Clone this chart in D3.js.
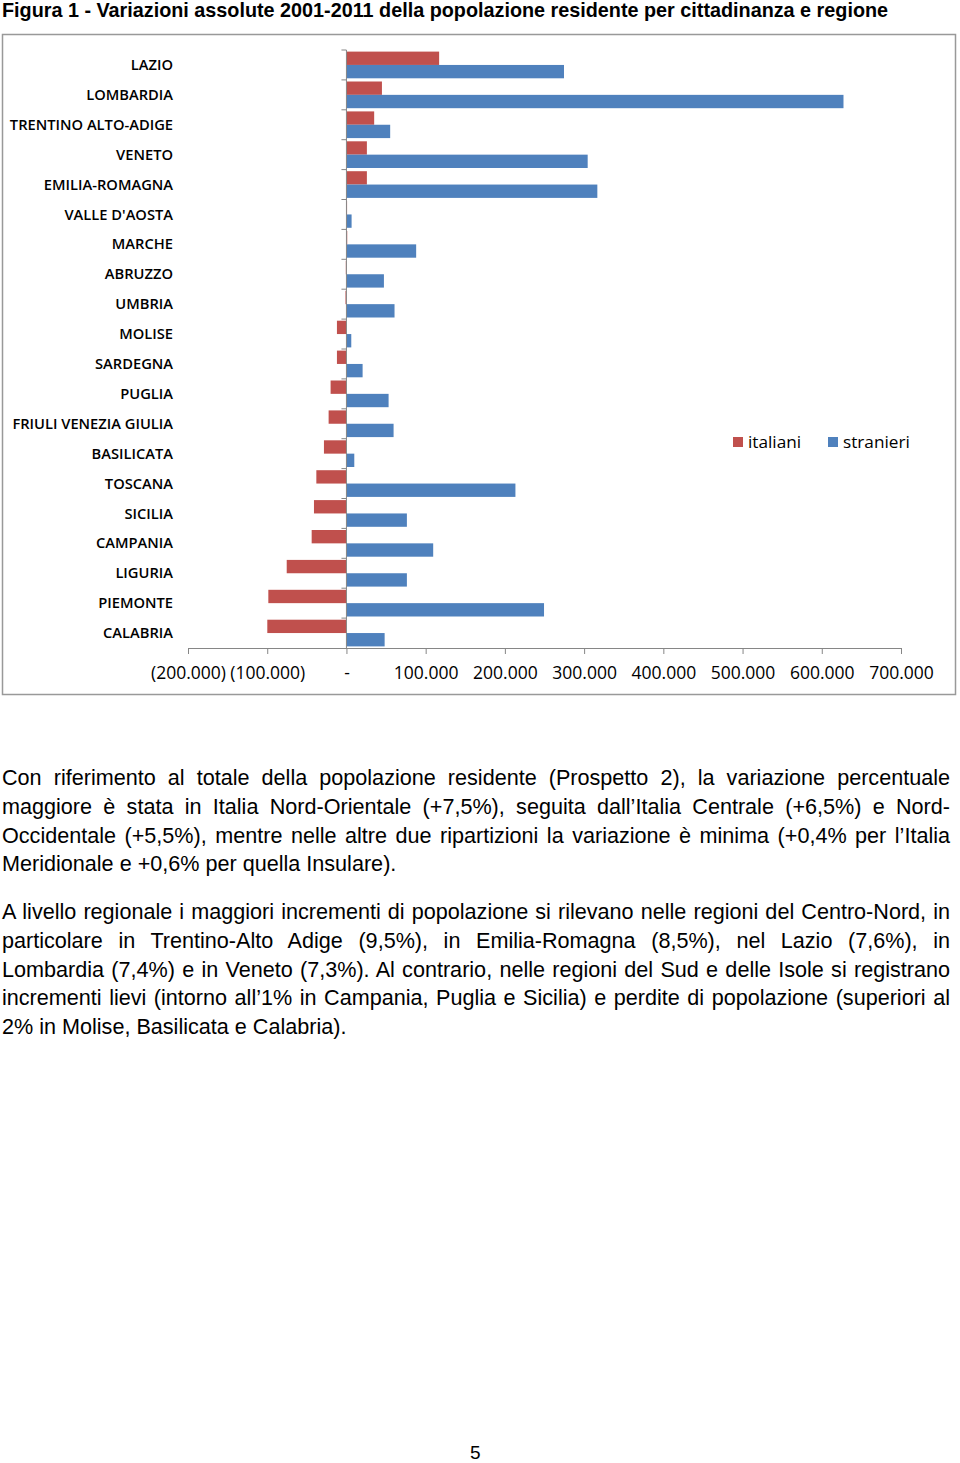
<!DOCTYPE html>
<html>
<head>
<meta charset="utf-8">
<script src="https://cdn.jsdelivr.net/npm/d3@7"></script>
<style>
  body { margin: 0; background: #fff; width: 960px; height: 1463px; position: relative; overflow: hidden; }
  svg { position: absolute; left: 0; top: 0; }
  .para { position: absolute; left: 2px; width: 948px; font-family: "Liberation Sans", Arial, sans-serif; font-size: 21.6px; line-height: 28.8px; color: #000; }
  .para div { text-align: justify; text-align-last: justify; white-space: nowrap; }
  .para div.last { text-align-last: left; }
  #pagenum { position: absolute; left: 470px; top: 1442px; font-family: "Liberation Sans", Arial, sans-serif; font-size: 19px; }
</style>
</head>
<body>
<svg id="chart" width="960" height="700"></svg>
<div class="para" id="p1" style="top:764px"></div>
<div class="para" id="p2" style="top:898px"></div>
<div id="pagenum">5</div>
<script>
// regions, top to bottom
var regions = ["LAZIO", "LOMBARDIA", "TRENTINO ALTO-ADIGE", "VENETO", "EMILIA-ROMAGNA", "VALLE D'AOSTA",
  "MARCHE", "ABRUZZO", "UMBRIA", "MOLISE", "SARDEGNA", "PUGLIA", "FRIULI VENEZIA GIULIA", "BASILICATA",
  "TOSCANA", "SICILIA", "CAMPANIA", "LIGURIA", "PIEMONTE", "CALABRIA"];
var italiani = [117000, 44800, 35000, 25800, 25800, 800, 1000, -800, -1200, -12000, -12000, -20000, -22500,
  -28400, -38000, -41000, -43900, -75400, -98600, -99900];
var stranieri = [274600, 627400, 55200, 304500, 316700, 6500, 88000, 47300, 60700, 6100, 20400, 53200, 59500,
  9900, 213300, 76300, 109500, 76300, 249400, 48200];
var xTicks = [-200000, -100000, 0, 100000, 200000, 300000, 400000, 500000, 600000, 700000];
var seriesNames = ["italiani", "stranieri"];
var colors = ["#c0504d", "#4f81bd"];

var title = "Figura 1 - Variazioni assolute 2001-2011 della popolazione residente per cittadinanza e regione";
var para1 = [
  "Con riferimento al totale della popolazione residente (Prospetto 2), la variazione percentuale",
  "maggiore è stata in Italia Nord-Orientale (+7,5%), seguita dall’Italia Centrale (+6,5%) e Nord-",
  "Occidentale (+5,5%), mentre nelle altre due ripartizioni la variazione è minima (+0,4% per l’Italia",
  "Meridionale e +0,6% per quella Insulare)."
];
var para2 = [
  "A livello regionale i maggiori incrementi di popolazione si rilevano nelle regioni del Centro-Nord, in",
  "particolare in Trentino-Alto Adige (9,5%), in Emilia-Romagna (8,5%), nel Lazio (7,6%), in",
  "Lombardia (7,4%) e in Veneto (7,3%). Al contrario, nelle regioni del Sud e delle Isole si registrano",
  "incrementi lievi (intorno all’1% in Campania, Puglia e Sicilia) e perdite di popolazione (superiori al",
  "2% in Molise, Basilicata e Calabria)."
];

var svg = d3.select('#chart');
var axisColor = '#868686';
var chartFont = '"Open Sans", sans-serif';

svg.append('text').attr('x', 2).attr('y', 17)
  .style('font-family', '"Liberation Sans", Arial, sans-serif').style('font-weight', 'bold').style('font-size', '19.8px')
  .text(title);

svg.append('rect').attr('x', 2.5).attr('y', 34.5).attr('width', 953).attr('height', 660)
  .attr('fill', 'none').attr('stroke', '#999').attr('stroke-width', 1.5);

var x = d3.scaleLinear().domain([-200000, 700000]).range([188, 901]);
var y = d3.scaleBand().domain(regions).range([50, 648]);
var ySub = d3.scaleBand().domain(seriesNames).range([0, y.bandwidth()]).paddingOuter(0.12);

var it = d3.formatLocale({ decimal: ",", thousands: ".", grouping: [3], currency: ["", "€"] });
var f = it.format(",");
function tickFmt(d) {
  if (d === 0) return "-";
  return d < 0 ? "(" + f(-d) + ")" : f(d);
}

// bars
seriesNames.forEach(function (s, si) {
  var vals = si === 0 ? italiani : stranieri;
  svg.append('g').selectAll('rect').data(vals).enter().append('rect')
    .attr('x', function (d) { return x(Math.min(0, d)); })
    .attr('width', function (d) { return Math.abs(x(d) - x(0)); })
    .attr('y', function (d, i) { return y(regions[i]) + ySub(s); })
    .attr('height', ySub.bandwidth())
    .attr('fill', colors[si]);
});

// x axis
var xAxis = svg.append('g').attr('transform', 'translate(0,648)')
  .call(d3.axisBottom(x).tickValues(xTicks).tickFormat(tickFmt).tickSize(6).tickSizeOuter(0).tickPadding(13));
xAxis.select('.domain').attr('stroke', axisColor);
xAxis.selectAll('.tick line').attr('stroke', axisColor);
xAxis.selectAll('.tick text').style('font-family', chartFont).style('font-size', '17.5px').attr('fill', '#000');

// y axis (Excel style: ticks on category boundaries)
var yg = svg.append('g');
yg.append('line').attr('x1', x(0)).attr('x2', x(0)).attr('y1', y.range()[0]).attr('y2', y.range()[1])
  .attr('stroke', axisColor);
yg.selectAll('line.tk').data(regions).enter().append('line').attr('class', 'tk')
  .attr('x1', x(0) - 5).attr('x2', x(0))
  .attr('y1', function (d) { return y(d); }).attr('y2', function (d) { return y(d); })
  .attr('stroke', axisColor);
yg.selectAll('text').data(regions).enter().append('text')
  .attr('x', 173).attr('y', function (d) { return y(d) + y.bandwidth() / 2; })
  .attr('dy', '0.35em').attr('text-anchor', 'end')
  .style('font-family', chartFont).style('font-size', '14.7px').style('font-weight', 600)
  .text(function (d) { return d; });

// legend
var lg = svg.append('g').attr('transform', 'translate(733,442)');
var lx = [0, 95];
seriesNames.forEach(function (s, i) {
  lg.append('rect').attr('x', lx[i]).attr('y', -5).attr('width', 10).attr('height', 10).attr('fill', colors[i]);
  lg.append('text').attr('x', lx[i] + 15).attr('dy', '0.35em')
    .style('font-family', chartFont).style('font-size', '17.2px').text(s);
});

// text below
function writePara(id, lines) {
  d3.select(id).selectAll('div').data(lines).enter().append('div')
    .attr('class', function (d, i) { return i === lines.length - 1 ? 'last' : null; })
    .text(function (d) { return d; });
}
writePara('#p1', para1);
writePara('#p2', para2);
</script>
</body>
</html>
